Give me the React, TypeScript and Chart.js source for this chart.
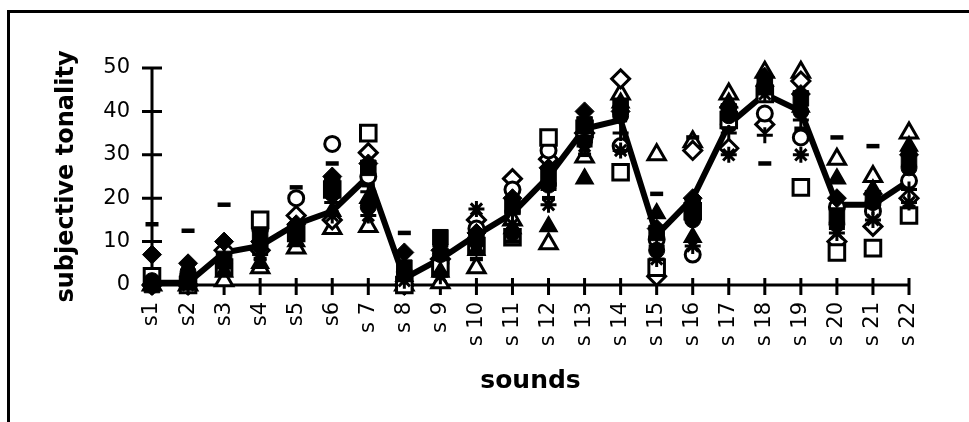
import React, { useEffect, useRef } from "react";
import { Chart, registerables } from "chart.js";

Chart.register(...registerables);

const categories = [
  "s1", "s2", "s3", "s4", "s5", "s6", "s 7", "s 8", "s 9", "s 10", "s 11",
  "s 12", "s 13", "s 14", "s 15", "s 16", "s 17", "s 18", "s 19", "s 20", "s 21", "s 22",
];
const yTicks = [0, 10, 20, 30, 40, 50];

const meanTonality = [0.5, 0.5, 7.5, 9, 14, 17, 25, 1.5, 6, 11.5, 16.5, 25, 36, 38, 11.5, 20, 37, 44, 40, 18.5, 18.5, 24];

const subjA = [7, 5, 10, 10, 14, 25, 28, 7.5, 8, 12, 20, 27, 40, 40, 13, 20, 41, 48, 44, 20, 21, 30];
const subjB = [0, 0, 8, 8, 16, 15, 30.5, 0, 6, 15, 24.5, 29, 35, 47.5, 2, 31, 31.5, 37, 47, 10, 13.5, 20];
const subjC = [2, 0, 4, 15, 12, 22, 35, 0, 4, 9, 11, 34, 36, 26, 4, 17, 38, 44, 22.5, 7.5, 8.5, 16];
const subjD = [0, 1, 6, 11, 12, 23, 27, 4, 11, 11, 18, 25, 37, 41, 12, 18, 40, 46, 43, 16, 20, 29];
const subjE = [0, 2, 5, 13, 20, 32.5, 25, 0, 5, 13, 22, 31, 34, 32, 10.5, 7, 37, 39.5, 34, 18, 17, 24];
const subjF = [1, 3, 5, 9, 13, 21, 18, 3, 7, 10, 12, 23, 33, 39, 8, 15, 39, 46, 40, 14, 19, 27];
const subjG = [0, 0, 1, 4, 8.5, 13, 13.5, 0, 0.5, 4, 15, 9.5, 29.5, 44, 30, 33, 44, 49, 49, 29, 25, 35];
const subjH = [0, 0, 3, 5, 10, 17, 20, 2, 3, 8, 13, 13.5, 24.5, 42, 16.5, 11, 42, 47, 41, 24.5, 22, 32];
const subjI = [0, 1, 7, 10, 11, 19, 21.5, 2, 9, 10, 17, 22, 35, 35, 9, 16, 35, 34.5, 38, 13, 18, 22];
const subjJ = [0, 0, 4, 7, 11, 16, 16, 1, 2, 17.5, 14, 18.5, 32, 31, 6, 9, 30, 44, 30, 12, 15, 19];
const subjK = [14, 12.5, 18.5, 6, 22.5, 28, 23, 12, 12, 6, 10, 20, 30, 38, 21, 34, 36, 28, 36, 34, 32, 18];

function markerSet(label: string, data: number[], pointStyle: any, filled: boolean, radius: number, borderWidth: number, order: number) {
  return {
    type: "line" as const,
    label,
    data,
    showLine: false,
    pointStyle,
    pointRadius: radius,
    pointBackgroundColor: filled ? "#000" : "#fff",
    pointBorderColor: "#000",
    pointBorderWidth: borderWidth,
    clip: false as any,
    order,
  };
}

const axisPlugin = {
  id: "crossAxes",
  beforeDatasetsDraw(chart: any) {
    const { ctx } = chart;
    const x = chart.scales.x;
    const y = chart.scales.y;
    const x0 = x.getPixelForValue(0);
    const xN = x.getPixelForValue(categories.length - 1);
    const y0 = y.getPixelForValue(0);
    const yTop = y.getPixelForValue(yTicks[yTicks.length - 1]);
    ctx.save();
    ctx.strokeStyle = "#000";
    ctx.lineWidth = 3;
    ctx.lineCap = "butt";
    ctx.beginPath();
    ctx.moveTo(x0, yTop);
    ctx.lineTo(x0, y0);
    ctx.moveTo(x0, y0);
    ctx.lineTo(xN, y0);
    yTicks.forEach((v) => {
      const py = y.getPixelForValue(v);
      ctx.moveTo(x0 - 10, py);
      ctx.lineTo(x0 + 10, py);
    });
    categories.forEach((_, i) => {
      const px = x.getPixelForValue(i);
      ctx.moveTo(px, y0 - 7);
      ctx.lineTo(px, y0 + 10);
    });
    ctx.stroke();
    ctx.restore();
  },
};

export default function App() {
  const ref = useRef<HTMLCanvasElement | null>(null);

  useEffect(() => {
    if (!ref.current) return;
    const font = "DejaVu Sans";
    const chart = new Chart(ref.current, {
      type: "line",
      data: {
        labels: categories,
        datasets: [
          {
            type: "line",
            label: "mean",
            data: meanTonality,
            borderColor: "#000",
            borderWidth: 6,
            pointRadius: 0,
            tension: 0,
            fill: false,
            clip: false as any,
            order: 10,
          },
          markerSet("C", subjC, "rect", false, 11, 3, 5),
          markerSet("E", subjE, "circle", false, 7.5, 3, 5),
          markerSet("B", subjB, "rectRot", false, 9, 3, 5),
          markerSet("G", subjG, "triangle", false, 10, 3, 5),
          markerSet("D", subjD, "rect", true, 11, 1, 3),
          markerSet("F", subjF, "circle", true, 8, 1, 3),
          markerSet("A", subjA, "rectRot", true, 9.5, 1, 3),
          markerSet("H", subjH, "triangle", true, 10, 1.5, 3),
          markerSet("I", subjI, "cross", false, 8, 3, 1),
          markerSet("J", subjJ, "star", false, 8, 3, 1),
          markerSet("K", subjK, "line", false, 6.5, 4.5, 1),
        ] as any,
      },
      options: {
        animation: false,
        responsive: false,
        maintainAspectRatio: false,
        layout: { padding: { left: 0, top: 68, right: 60, bottom: 0 } },
        plugins: { legend: { display: false }, tooltip: { enabled: false } },
        scales: {
          x: {
            type: "category",
            offset: false,
            grid: { display: false, drawTicks: false },
            border: { display: false },
            ticks: {
              autoSkip: false,
              maxRotation: 90,
              minRotation: 90,
              padding: 17,
              color: "#000",
              font: { family: font, size: 21 },
            },
            title: {
              display: true,
              text: "sounds",
              color: "#000",
              font: { family: font, size: 25, weight: "bold" },
              padding: { top: 0, bottom: 26 },
            },
            afterFit: (s: any) => {
              s.height = 422 - 285;
            },
          },
          y: {
            min: 0,
            max: 50,
            grid: { display: false, drawTicks: false },
            border: { display: false },
            ticks: {
              stepSize: 10,
              padding: 22,
              color: "#000",
              font: { family: font, size: 21 },
            },
            title: {
              display: true,
              text: "subjective tonality",
              color: "#000",
              font: { family: font, size: 24, weight: "bold" },
              padding: { top: 52, bottom: 0 },
            },
            afterFit: (s: any) => {
              s.width = 152;
            },
          },
        },
      } as any,
      plugins: [axisPlugin],
    });
    return () => chart.destroy();
  }, []);

  return (
    <>
      <canvas
        ref={ref}
        width={969}
        height={422}
        style={{ position: "absolute", left: 0, top: 0, width: 969, height: 422 }}
      />
      <div
        style={{
          position: "absolute",
          left: 7,
          top: 10,
          width: 962,
          height: 412,
          boxSizing: "border-box",
          borderTop: "3px solid #000",
          borderLeft: "3px solid #000",
          pointerEvents: "none",
        }}
      />
    </>
  );
}
